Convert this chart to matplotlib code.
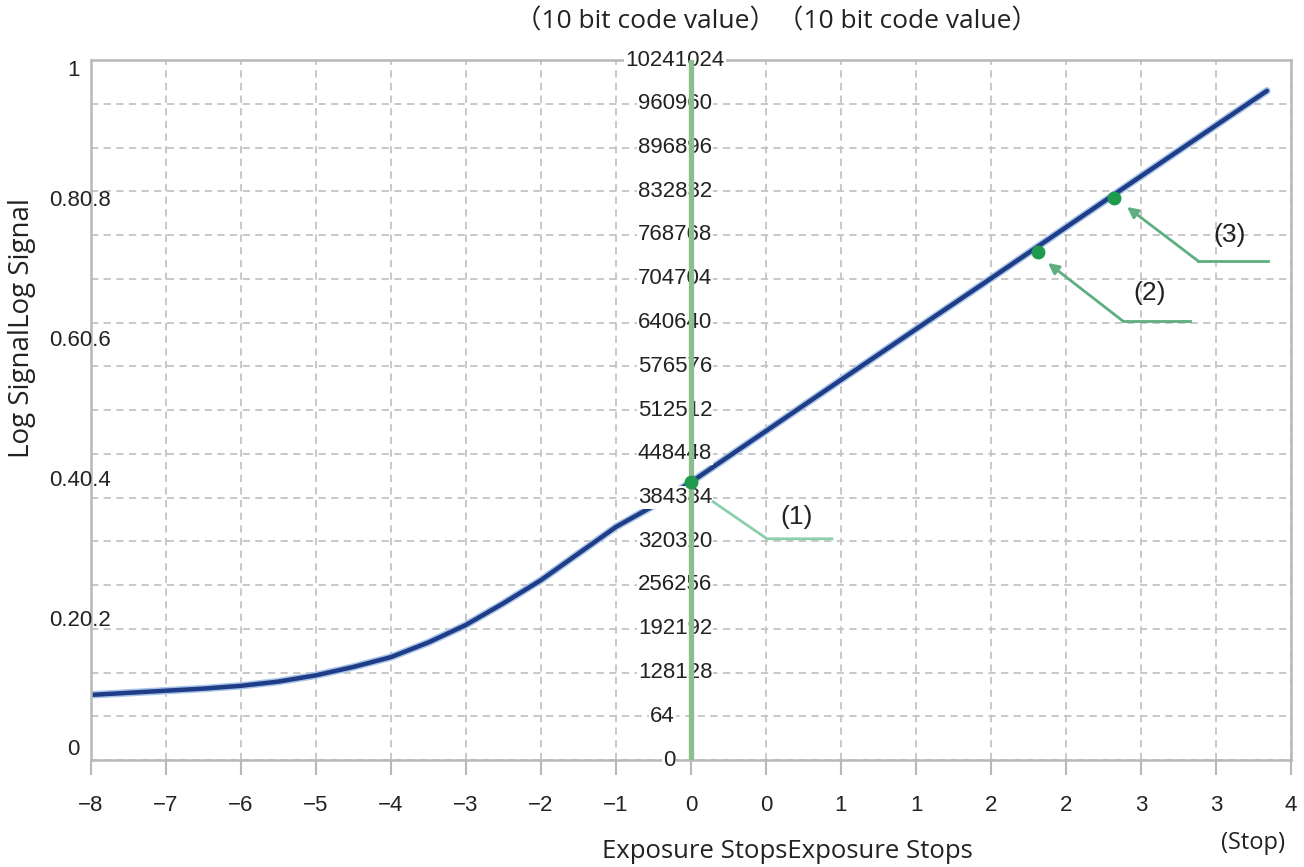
import numpy as np
import matplotlib
matplotlib.use("Agg")
import matplotlib.pyplot as plt
from matplotlib.transforms import offset_copy

# ---------------- data ----------------
stops = [-8, -7.5, -7, -6.5, -6, -5.5, -5, -4.5, -4, -3.5, -3, -2.5, -2, -1.5, -1, -0.5, 0,
         1, 2, 3, 3.84]
log_signal = [0.093, 0.096, 0.099, 0.102, 0.106, 0.112, 0.121, 0.133, 0.147, 0.168, 0.193,
              0.224, 0.257, 0.295, 0.333, 0.363, 0.397, 0.543, 0.688, 0.834, 0.956]

marker_names = ["(1)", "(2)", "(3)"]
marker_stops = [0.0, 2.31, 2.82]
marker_signal = [0.397, 0.726, 0.803]

x_ticks = [-8, -7, -6, -5, -4, -3, -2, -1, 0, 0.5, 1, 1.5, 2, 2.5, 3, 3.5, 4]
x_labels = ["\u22128", "\u22127", "\u22126", "\u22125", "\u22124", "\u22123", "\u22122", "\u22121",
            "0", "0", "1", "1", "2", "2", "3", "3", "4"]

y_ticks = [0, 0.2, 0.4, 0.6, 0.8, 1.0]
y_labels = ["0", "0.20.2", "0.40.4", "0.60.6", "0.80.8", "1"]

code_values = [0, 64, 128, 192, 256, 320, 384, 448, 512, 576, 640, 704, 768, 832, 896, 960, 1024]
code_labels = ["0", "64", "128128", "192192", "256256", "320320", "384384", "448448", "512512",
               "576576", "640640", "704704", "768768", "832832", "896896", "960960", "10241024"]

# ---------------- styling ----------------
TICK_FONT = ["Liberation Sans", "DejaVu Sans"]
LABEL_FONT = ["Open Sans", "Noto Sans CJK JP", "DejaVu Sans"]
GRID_C = "#c4c4c4"
SPINE_C = "#b8b8b8"
CURVE_C = "#1f3c88"
GREEN = "#1f9a4c"
LEADER = "#5fae80"
TEXT_C = "#222222"

W, H = 1304, 867
fig = plt.figure(figsize=(W / 100, H / 100), dpi=100)
ax = fig.add_axes([91 / W, 107 / H, 1200 / W, 700 / H])


def fwd(x):
    x = np.asarray(x, dtype=float)
    return np.where(x < 0, x, 2 * x)


def inv(u):
    u = np.asarray(u, dtype=float)
    return np.where(u < 0, u, u / 2)


ax.set_xscale("function", functions=(fwd, inv))
ax.set_xlim(-8, 4)
ax.set_ylim(0, 1)

# grid
ax.set_xticks(x_ticks)
ax.set_xticklabels(x_labels, fontfamily=TICK_FONT, fontsize=16, color=TEXT_C)
ax.set_yticks(np.array(code_values) / 1024)
ax.set_yticklabels([])
ax.tick_params(axis="y", length=0)
ax.tick_params(axis="x", direction="out", length=11, width=1.5, color=SPINE_C, pad=14)
ax.grid(True, color=GRID_C, linestyle=(0, (4, 3)), linewidth=1.3, zorder=0)
ax.set_axisbelow(True)
for s in ax.spines.values():
    s.set_color(SPINE_C)
    s.set_linewidth(1.8)

# curve
ax.plot(stops, log_signal, color="#a9c6e8", lw=5.4, solid_capstyle="round", zorder=2)
ax.plot(stops, log_signal, color=CURVE_C, lw=3.2, solid_capstyle="round", zorder=2.1)

# y tick labels (left)
ytr = offset_copy(ax.get_yaxis_transform(), fig=fig, x=-11, y=0, units="dots")
for v, s in zip(y_ticks, y_labels):
    doubled = len(s) % 2 == 0 and s[:len(s) // 2] == s[len(s) // 2:]
    va = "top" if v == max(y_ticks) else ("bottom" if v == min(y_ticks) else "center")
    ax.text(0, v, s, transform=ytr, ha="center" if doubled else "right", va=va,
            fontsize=16, fontfamily=TICK_FONT, color=TEXT_C, clip_on=False)

# code-value labels (center)
ctr = offset_copy(ax.transData, fig=fig, x=-16, y=0, units="dots")
for v, s in zip(code_values, code_labels):
    doubled = len(s) % 2 == 0 and s[:len(s) // 2] == s[len(s) // 2:]
    ax.text(0, v / 1024, s, transform=ctr, ha="center" if doubled else "right", va="center",
            fontsize=16, fontfamily=TICK_FONT, color=TEXT_C, zorder=3, clip_on=False,
            bbox=dict(boxstyle="square,pad=0.05", fc="white", ec="none"))

# green vertical axis line at 0 stops
ax.axvline(0, color="#8dbd8d", lw=3.8, zorder=3.5)

# markers
ax.plot(marker_stops, marker_signal, "o", color=GREEN, ms=9, zorder=5)

# leaders and labels
# (1): no arrowhead
ax.plot([0.147, 0.507, 0.94], [0.369, 0.316, 0.316], color="#8ccfab", lw=2, zorder=4)
ax.text(0.707, 0.347, marker_names[0], ha="center", va="center", fontsize=19,
        fontfamily=TICK_FONT, color=TEXT_C, zorder=4)
# (2)
ax.plot([2.88, 3.327], [0.627, 0.627], color=LEADER, lw=2, zorder=4)
ax.annotate("", xy=(2.38, 0.710), xytext=(2.88, 0.627),
            arrowprops=dict(arrowstyle="-|>", color=LEADER, lw=2, mutation_scale=16,
                            shrinkA=0, shrinkB=0), zorder=4)
ax.text(3.06, 0.667, marker_names[1], ha="center", va="center", fontsize=19,
        fontfamily=TICK_FONT, color=TEXT_C, zorder=4)
# (3)
ax.plot([3.38, 3.847], [0.713, 0.713], color=LEADER, lw=2, zorder=4)
ax.annotate("", xy=(2.907, 0.790), xytext=(3.38, 0.713),
            arrowprops=dict(arrowstyle="-|>", color=LEADER, lw=2, mutation_scale=16,
                            shrinkA=0, shrinkB=0), zorder=4)
ax.text(3.593, 0.75, marker_names[2], ha="center", va="center", fontsize=19,
        fontfamily=TICK_FONT, color=TEXT_C, zorder=4)

# titles / axis labels
fig.text(645 / W, 1 - 22 / H, "\uff0810 bit code value\uff09", ha="center", va="center",
         fontsize=19, fontfamily=LABEL_FONT, color=TEXT_C)
fig.text(907 / W, 1 - 22 / H, "\uff0810 bit code value\uff09", ha="center", va="center",
         fontsize=19, fontfamily=LABEL_FONT, color=TEXT_C)
fig.text(787 / W, 1 - 851 / H, "Exposure StopsExposure Stops", ha="center", va="center",
         fontsize=18.5, fontfamily=LABEL_FONT, color=TEXT_C)
fig.text(1253 / W, 1 - 843 / H, "(Stop)", ha="center", va="center",
         fontsize=17, fontfamily=LABEL_FONT, color=TEXT_C)
fig.text(22 / W, 1 - 328 / H, "Log SignalLog Signal", ha="center", va="center", rotation=90,
         fontsize=20, fontfamily=LABEL_FONT, color=TEXT_C)

fig.savefig("out.png", dpi=100, facecolor="white")
